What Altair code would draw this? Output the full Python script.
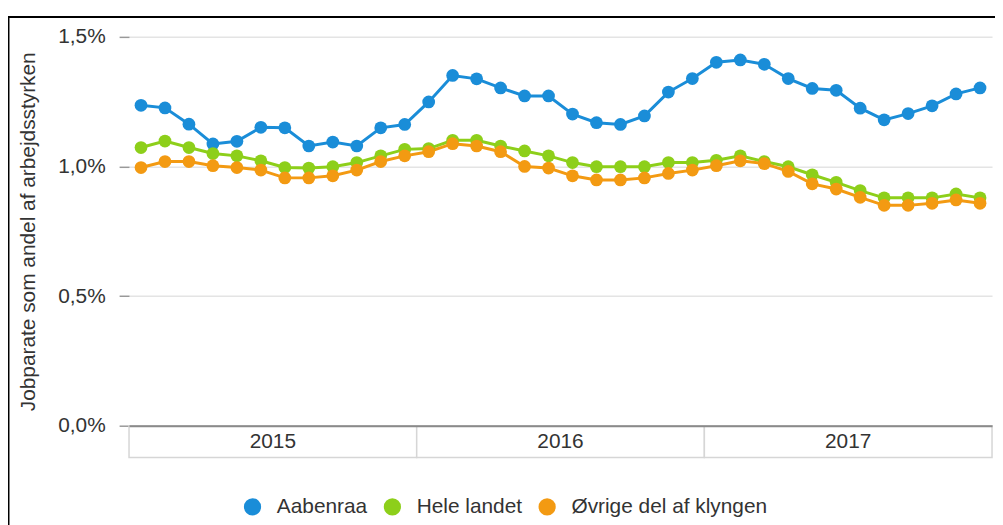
import altair as alt
import pandas as pd

series = ["Aabenraa", "Hele landet", "Øvrige del af klyngen"]
colors = ["#1a8dd8", "#8dcf1a", "#f39a12"]
years = ["2015", "2016", "2017"]
y_ticks = [0.0, 0.5, 1.0, 1.5]

aabenraa = [1.236, 1.226, 1.163, 1.087, 1.097, 1.151, 1.149, 1.079, 1.094, 1.079, 1.149, 1.162,
            1.249, 1.351, 1.338, 1.303, 1.272, 1.272, 1.202, 1.169, 1.162, 1.195, 1.287, 1.339,
            1.402, 1.411, 1.394, 1.339, 1.301, 1.294, 1.225, 1.180, 1.204, 1.234, 1.280, 1.303]
hele_landet = [1.073, 1.098, 1.073, 1.050, 1.041, 1.022, 0.996, 0.994, 0.999, 1.015, 1.041, 1.066,
               1.069, 1.101, 1.101, 1.079, 1.060, 1.041, 1.015, 0.999, 0.999, 0.999, 1.015, 1.015,
               1.024, 1.041, 1.019, 0.999, 0.968, 0.939, 0.907, 0.879, 0.879, 0.879, 0.894, 0.879]
ovrige = [0.996, 1.019, 1.019, 1.003, 0.996, 0.986, 0.956, 0.956, 0.964, 0.986, 1.019, 1.041,
          1.057, 1.088, 1.079, 1.057, 1.000, 0.994, 0.964, 0.948, 0.948, 0.956, 0.973, 0.986,
          1.003, 1.022, 1.011, 0.981, 0.933, 0.913, 0.881, 0.850, 0.850, 0.858, 0.871, 0.858]

rows = []
for name, vals in zip(series, [aabenraa, hele_landet, ovrige]):
    for i, v in enumerate(vals):
        rows.append({"serie": name, "maaned": i + 0.5, "pct": v})
df = pd.DataFrame(rows)

year_df = pd.DataFrame({
    "aar": years,
    "start": [12 * i for i in range(len(years))],
    "slut": [12 * (i + 1) for i in range(len(years))],
    "midt": [12 * i + 6 for i in range(len(years))],
})

W, H = 870, 392
FONT = "Liberation Sans"
TXT = "#333333"

xscale = alt.Scale(domain=[0, 12 * len(years)], nice=False, zero=False)
yscale = alt.Scale(domain=[0, 1.5], nice=False)

x_axis = alt.Axis(title=None, labels=False, ticks=False, grid=False, domain=True,
                  domainColor="#8a8a8a", domainWidth=2, zindex=1)
y_axis = alt.Axis(values=y_ticks, title="Jobparate som andel af arbejdsstyrken",
                  labelExpr="replace(format(datum.value, '.1f'), '.', ',') + '%'",
                  domain=False, tickColor="#999999", tickSize=10, tickWidth=1.5,
                  gridColor="#e4e4e4", gridWidth=1.5, labelFontSize=21, labelColor=TXT,
                  labelPadding=14, titleFontSize=21, titleFontWeight="normal",
                  titleColor=TXT, titlePadding=19, labelFont=FONT, titleFont=FONT)

legend = alt.Legend(title=None, orient="none", legendX=114, legendY=463,
                    direction="horizontal", symbolType="circle",
                    symbolSize=300, symbolStrokeWidth=0,
                    labelFontSize=21, labelColor=TXT, labelFont=FONT, labelLimit=500,
                    labelOffset=14, columnPadding=14)
color_enc = alt.Color("serie:N", scale=alt.Scale(domain=series, range=colors),
                      sort=series, legend=legend)

lines = alt.Chart(df).mark_line(strokeWidth=3).encode(
    x=alt.X("maaned:Q", scale=xscale, axis=x_axis),
    y=alt.Y("pct:Q", scale=yscale, axis=y_axis),
    color=color_enc,
)

points = alt.Chart(df).mark_point(filled=True, size=165, opacity=1).encode(
    x=alt.X("maaned:Q", scale=xscale, axis=x_axis),
    y=alt.Y("pct:Q", scale=yscale, axis=y_axis),
    color=color_enc,
)

boxes = alt.Chart(year_df).mark_rect(fill="white", stroke="#d6d6d6", strokeWidth=1.5).encode(
    x=alt.X("start:Q", scale=xscale, axis=x_axis),
    x2="slut:Q",
    y=alt.value(H),
    y2=alt.value(H + 32),
)

year_text = alt.Chart(year_df).mark_text(fontSize=21, color=TXT, font=FONT, baseline="middle").encode(
    x=alt.X("midt:Q", scale=xscale, axis=x_axis),
    y=alt.value(H + 16),
    text="aar:N",
)

one = alt.Data(values=[{}])
border_left = alt.Chart(one).mark_rule(color="black", strokeWidth=2).encode(
    x=alt.value(-121.5), y=alt.value(-20), y2=alt.value(H + 200))
border_top = alt.Chart(one).mark_rule(color="black", strokeWidth=2).encode(
    x=alt.value(-122.5), x2=alt.value(W + 60), y=alt.value(-20))

chart = alt.layer(boxes, year_text, lines, points, border_left, border_top).properties(
    width=W, height=H,
    autosize=alt.AutoSizeParams(type="none"),
    padding={"left": 122, "top": 27, "right": 3, "bottom": 98},
).configure(font=FONT).configure_view(stroke=None)

chart.save("out.html", embed_options={"renderer": "svg", "actions": False})
